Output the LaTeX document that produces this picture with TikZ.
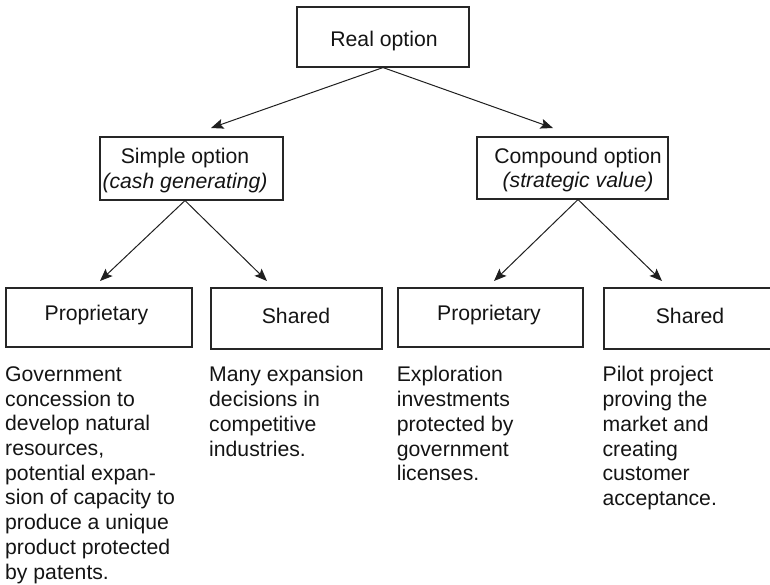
\documentclass[tikz,border=0pt]{standalone}
\usepackage{fontspec}
\setmainfont{Liberation Sans}
\usetikzlibrary{arrows.meta}
\begin{document}
\begin{tikzpicture}[x=1pt,y=-1pt,
  boxshape/.style={draw=black!85, line width=1.1pt, rectangle, inner sep=0pt},
  lbl/.style={inner sep=0pt, font=\fontsize{21.2}{24.7}\selectfont, text=black!92},
  desc/.style={lbl, anchor=north west, align=left},
  arr/.style={draw=black!88, line width=1pt, -{Stealth[length=12.5pt,width=10pt,inset=2.5pt]}}]
\path[use as bounding box] (0,0) rectangle (770,584);
% boxes
\node[boxshape, minimum width=172pt, minimum height=60pt] (real) at (383,37) {};
\node[boxshape, minimum width=183pt, minimum height=63pt] (simple) at (191.5,168.5) {};
\node[boxshape, minimum width=191pt, minimum height=62pt] (compound) at (572.5,168) {};
\node[boxshape, minimum width=186pt, minimum height=59pt] (propL) at (99,317.5) {};
\node[boxshape, minimum width=171pt, minimum height=61pt] (shareL) at (296.5,318.5) {};
\node[boxshape, minimum width=185pt, minimum height=59pt] (propR) at (490.5,317.5) {};
\node[boxshape, minimum width=172pt, minimum height=61pt] (shareR) at (690,318.5) {};
% box labels
\node[lbl, anchor=base] (realtxt) at (384,46.5) {Real option};
\node[lbl, anchor=north, align=center] (simpletxt) at (185,148) {Simple option\\\textit{(cash generating)}};
\node[lbl, anchor=north, align=center] (comptxt) at (578,147.5) {Compound option\\\textit{(strategic value)}};
\node[lbl, anchor=base] (propLtxt) at (96.5,320) {Proprietary};
\node[lbl, anchor=base] (shareLtxt) at (296,323.5) {Shared};
\node[lbl, anchor=base] (propRtxt) at (489,320) {Proprietary};
\node[lbl, anchor=base] (shareRtxt) at (690,323.5) {Shared};
% arrow ends
\coordinate (t1) at (211,128);
\coordinate (t2) at (553,128);
\coordinate (t3) at (100,281);
\coordinate (t4) at (267,281);
\coordinate (t5) at (494,281);
\coordinate (t6) at (662,281);
\draw[arr] (real.south) -- (t1);
\draw[arr] (real.south) -- (t2);
\draw[arr] (simpletxt |- simple.south) -- (t3);
\draw[arr] (simpletxt |- simple.south) -- (t4);
\draw[arr] (comptxt |- compound.south) -- (t5);
\draw[arr] (comptxt |- compound.south) -- (t6);
% descriptions
\node[desc] (d1) at (5,366.4) {Government\\concession to\\develop natural\\resources,\\potential expan-\\sion of capacity to\\produce a unique\\product protected\\by patents.};
\node[desc] (d2) at (209,366.4) {Many expansion\\decisions in\\competitive\\industries.};
\node[desc] (d3) at (396.6,366.4) {Exploration\\investments\\protected by\\government\\licenses.};
\node[desc] (d4) at (602.4,366.4) {Pilot project\\proving the\\market and\\creating\\customer\\acceptance.};
\end{tikzpicture}
\end{document}
